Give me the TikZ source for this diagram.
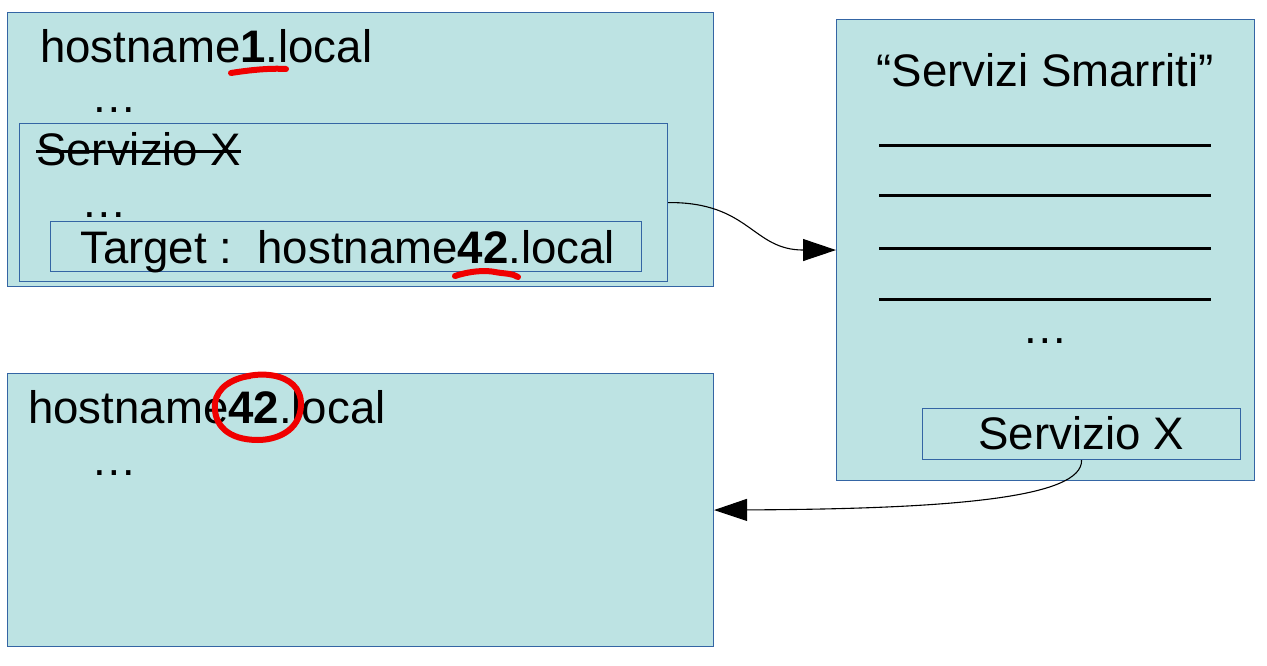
\documentclass[tikz,border=0pt]{standalone}
\usepackage{fontspec}
\setmainfont{Liberation Sans}
\usetikzlibrary{arrows.meta}
\definecolor{boxfill}{RGB}{189,227,227}
\definecolor{boxline}{RGB}{52,101,164}
\definecolor{marker}{RGB}{240,0,0}
\tikzset{
  box/.style={draw=boxline, fill=boxfill, line width=1.1pt, inner sep=0pt, anchor=north west},
  txt/.style={inner sep=0pt, anchor=base west, font=\fontsize{45.6}{54}\selectfont},
  ctxt/.style={inner sep=0pt, anchor=base, font=\fontsize{45.6}{54}\selectfont},
  conn/.style={draw=black, line width=1.1pt, -{Triangle[length=33pt,width=22pt]}},
  redmark/.style={draw=marker, line width=6pt, line cap=round, line join=round},
  listline/.style={draw=black, line width=3pt}
}
\begin{document}
\begin{tikzpicture}[x=1pt,y=-1pt]
\useasboundingbox (0,0) rectangle (1267,666);
% boxes
\node[box, minimum width=706pt, minimum height=274pt] (A) at (7,12) {};
\node[box, minimum width=648pt, minimum height=158pt] (B) at (19,123) {};
\node[box, minimum width=591pt, minimum height=50pt] (C) at (50,221) {};
\node[box, minimum width=706pt, minimum height=273pt] (D) at (7,373) {};
\node[box, minimum width=418pt, minimum height=461pt] (E) at (836,19) {};
\node[box, minimum width=318pt, minimum height=51pt] (F) at (922,408) {};
% texts in A
\node[txt] (h1) at (40,63) {hostname\textbf{1}.local};
\node[txt] (d1) at (91,113) {…};
\node[txt] (sx) at (36,166) {Servizio X};
\draw[line width=3pt] (36,152) -- (241,152);
\node[txt] (d2) at (81,217) {…};
\node[txt] (tg) at (80,263) {Target :\ \ hostname\textbf{42}.local};
% texts in D
\node[txt] (h42) at (28,423) {hostname\textbf{42}.local};
\node[txt] (d3) at (91,475) {…};
% texts in E
\node[ctxt] (title) at (1045,87) {“Servizi Smarriti”};
\draw[listline] (879,146) -- (1211,146);
\draw[listline] (879,196) -- (1211,196);
\draw[listline] (879,248) -- (1211,248);
\draw[listline] (879,299) -- (1211,299);
\node[ctxt] (d4) at (1045,343) {…};
\node[ctxt] (sxf) at (1081,449) {Servizio X};
% red marks
\draw[redmark] (231,73) .. controls (250,70) and (270,68) .. (286,69);
\draw[redmark] (455,276) .. controls (470,271) and (485,270) .. (495,272)
  .. controls (505,274) and (512,273) .. (518,277);
\draw[redmark] (226,385) .. controls (250,368) and (302,370) .. (301,405)
  .. controls (300,432) and (275,440) .. (258,440)
  .. controls (228,440) and (213,425) .. (215,403)
  .. controls (217,388) and (232,378) .. (250,376);
% connectors
\draw[conn] (B.east) .. controls (750,202) and (752,250) .. (E.west);
\draw[conn] (F.south) .. controls (1083,498) and (950,509) .. (D.east);
\end{tikzpicture}
\end{document}
